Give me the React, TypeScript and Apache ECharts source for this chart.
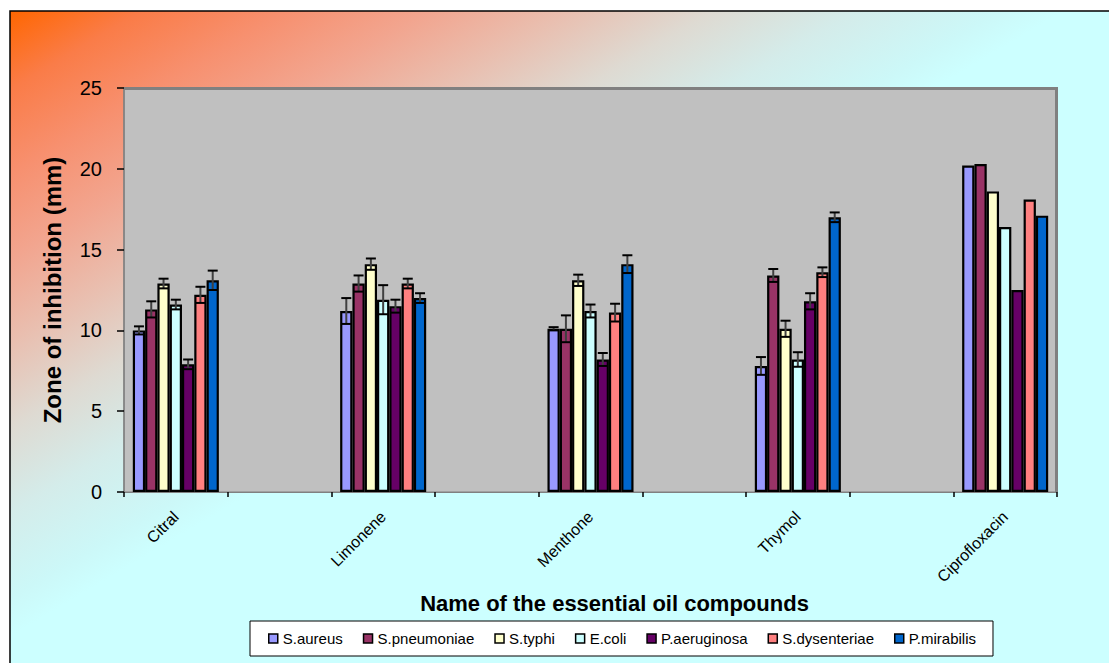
import React, { useEffect, useRef } from "react";
import * as echarts from "echarts";

const compounds = ["Citral", "Limonene", "Menthone", "Thymol", "Ciprofloxacin"];
const seriesNames = ["S.aureus", "S.pneumoniae", "S.typhi", "E.coli", "P.aeruginosa", "S.dysenteriae", "P.mirabilis"];
const seriesColors = ["#9999FF", "#993366", "#FFFFCC", "#CCFFFF", "#660066", "#FF8080", "#0066CC"];

const sAureus = [10.0, 11.2, 10.1, 7.8, 20.2];
const sPneumoniae = [11.3, 12.9, 10.1, 13.4, 20.3];
const sTyphi = [12.9, 14.1, 13.1, 10.1, 18.6];
const eColi = [11.6, 11.9, 11.2, 8.2, 16.4];
const pAeruginosa = [7.9, 11.5, 8.2, 11.8, 12.5];
const sDysenteriae = [12.2, 12.9, 11.1, 13.6, 18.1];
const pMirabilis = [13.1, 12.0, 14.1, 17.0, 17.1];

const sAureusErr = [0.25, 0.8, 0.1, 0.55, 0];
const sPneumoniaeErr = [0.5, 0.5, 0.83, 0.4, 0];
const sTyphiErr = [0.3, 0.35, 0.35, 0.5, 0];
const eColiErr = [0.3, 0.9, 0.4, 0.45, 0];
const pAeruginosaErr = [0.3, 0.4, 0.4, 0.5, 0];
const sDysenteriaeErr = [0.5, 0.3, 0.55, 0.3, 0];
const pMirabilisErr = [0.6, 0.3, 0.55, 0.3, 0];

const yMin = 0;
const yMax = 25;
const yInterval = 5;

const allValues = [sAureus, sPneumoniae, sTyphi, eColi, pAeruginosa, sDysenteriae, pMirabilis];
const allErrs = [sAureusErr, sPneumoniaeErr, sTyphiErr, eColiErr, pAeruginosaErr, sDysenteriaeErr, pMirabilisErr];

const FONT = "Arial, 'Liberation Sans', sans-serif";
const CAT_GAP = 0.17;

export default function App() {
  const ref = useRef<HTMLDivElement>(null);
  useEffect(() => {
    document.body.style.margin = "0";
    if (!ref.current) return;
    const chart = echarts.init(ref.current, undefined, { renderer: "svg" });

    // interleave blank categories between compounds
    const categories: string[] = [];
    compounds.forEach((c, i) => {
      categories.push(c);
      if (i < compounds.length - 1) categories.push("");
    });
    const slot = (ci: number) => ci * 2;

    const barSeries = seriesNames.map((name, si) => {
      const data: any[] = categories.map(() => "-");
      allValues[si].forEach((v, ci) => {
        data[slot(ci)] = v;
      });
      return {
        name,
        type: "bar",
        data,
        barGap: "0%",
        barCategoryGap: CAT_GAP * 100 + "%",
        itemStyle: { color: seriesColors[si], borderColor: "#000", borderWidth: 2.2 },
        z: 2,
      };
    });

    const errData: number[][] = [];
    allValues.forEach((vals, si) => {
      vals.forEach((v, ci) => {
        const e = allErrs[si][ci];
        if (e > 0) errData.push([slot(ci), v, e, si]);
      });
    });

    const n = seriesNames.length;
    const errSeries = {
      type: "custom",
      data: errData,
      encode: { x: 0, y: 1 },
      z: 10,
      silent: true,
      renderItem: (params: any, api: any) => {
        const xi = api.value(0);
        const v = api.value(1);
        const e = api.value(2);
        const si = api.value(3);
        const band = api.size([1, 0])[0];
        const barW = (band * (1 - CAT_GAP)) / n;
        const c = api.coord([xi, v]);
        const cx = c[0] + (si - (n - 1) / 2) * barW;
        const top = api.coord([xi, v + e])[1];
        const bot = api.coord([xi, v - e])[1];
        const hw = 5;
        return {
          type: "group",
          children: [
            { type: "line", shape: { x1: cx, y1: top, x2: cx, y2: bot }, style: { stroke: "#404040", lineWidth: 2 } },
            { type: "line", shape: { x1: cx - hw, y1: top, x2: cx + hw, y2: top }, style: { stroke: "#000", lineWidth: 2 } },
            { type: "line", shape: { x1: cx - hw, y1: bot, x2: cx + hw, y2: bot }, style: { stroke: "#000", lineWidth: 2 } },
          ],
        };
      },
    };

    const gradient = new echarts.graphic.LinearGradient(
      10, 11, 296, 493,
      [
        { offset: 0, color: "#FF6600" },
        { offset: 0.12, color: "#FA7C48" },
        { offset: 0.25, color: "#F7906F" },
        { offset: 0.38, color: "#F2A58F" },
        { offset: 0.51, color: "#E9BFB0" },
        { offset: 0.64, color: "#DEDAD2" },
        { offset: 0.77, color: "#D4ECEA" },
        { offset: 0.9, color: "#CCF8F8" },
        { offset: 0.96, color: "#CCFFFF" },
        { offset: 1, color: "#CCFFFF" },
      ],
      true
    );

    chart.setOption({
      animation: false,
      backgroundColor: "#FFFFFF",
      graphic: [
        {
          type: "rect",
          z: -100,
          silent: true,
          shape: { x: 10, y: 11, width: 1110, height: 670 },
          style: { fill: gradient, stroke: "#000", lineWidth: 1.5 },
        },
        {
          type: "polyline",
          z: 5,
          silent: true,
          shape: { points: [[124, 88.5], [1056.5, 88.5], [1056.5, 492]] },
          style: { stroke: "#808080", lineWidth: 3, fill: "none" },
        },
      ],
      grid: {
        left: 124,
        right: 52,
        top: 88,
        bottom: 171,
        show: true,
        backgroundColor: "#C0C0C0",
        borderColor: "#808080",
        borderWidth: 1,
      },
      legend: {
        data: seriesNames,
        left: 250,
        top: 621,
        icon: "rect",
        itemWidth: 9,
        itemHeight: 9,
        itemGap: 20,
        padding: [10, 17, 10, 18],
        backgroundColor: "#FFFFFF",
        borderColor: "#000",
        borderWidth: 1,
        textStyle: { fontSize: 15, color: "#000", fontFamily: FONT },
        itemStyle: { borderColor: "#000", borderWidth: 1.5 },
      },
      xAxis: {
        type: "category",
        data: categories,
        name: "Name of the essential oil compounds",
        nameLocation: "middle",
        nameGap: 93,
        nameTextStyle: { fontSize: 22, fontWeight: "bold", color: "#000", fontFamily: FONT, padding: [0, 0, 0, 48] },
        axisLine: { lineStyle: { color: "#808080", width: 1 } },
        axisTick: { show: true, length: 5, interval: 0, lineStyle: { color: "#000", width: 1.5 } },
        axisLabel: { interval: 0, rotate: 45, fontSize: 16, color: "#000", fontFamily: FONT, margin: 22 },
        splitLine: { show: false },
      },
      yAxis: {
        type: "value",
        min: yMin,
        max: yMax,
        interval: yInterval,
        name: "Zone of inhibition (mm)",
        nameLocation: "middle",
        nameGap: 60,
        nameTextStyle: { fontSize: 24, fontWeight: "bold", color: "#000", fontFamily: FONT },
        axisLine: { show: true, lineStyle: { color: "#808080", width: 1.5 } },
        axisTick: { show: true, length: 7, lineStyle: { color: "#000", width: 1.5 } },
        axisLabel: { fontSize: 20, color: "#000", fontFamily: FONT, margin: 22 },
        splitLine: { show: false },
      },
      series: [...barSeries, errSeries],
    });
    return () => chart.dispose();
  }, []);
  return <div ref={ref} style={{ width: 1109, height: 663 }} />;
}
